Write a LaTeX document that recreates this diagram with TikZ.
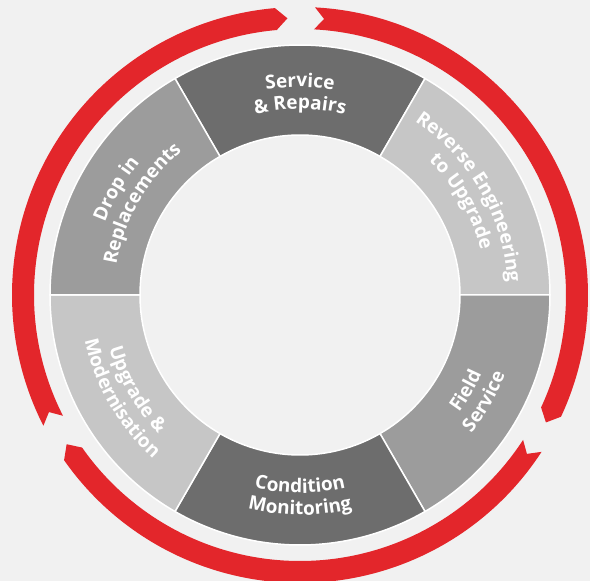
\documentclass[tikz,border=0pt]{standalone}
\usepackage{fontspec}
\setmainfont{Open Sans}
\usetikzlibrary{decorations.text}
\definecolor{backgr}{HTML}{F1F1F1}
\definecolor{arrowred}{HTML}{E3262B}
\definecolor{darkseg}{HTML}{6D6D6D}
\definecolor{midseg}{HTML}{9C9C9C}
\definecolor{lightseg}{HTML}{C6C6C6}
\newcommand{\segfont}{\bfseries\fontsize{19}{22}\selectfont}
% red ribbon: tail angle, head angle (clockwise)
\newcommand{\ribbon}[2]{%
\fill[arrowred] (#1:288) arc[start angle=#1, end angle=#2, radius=288] -- (#2-2.4:277) -- (#2:266)
  arc[start angle=#2, end angle=#1, radius=266] -- (#1-2:277) -- cycle;}
\tikzset{
  seg/.style={fill=#1, draw=white, line width=1.5pt},
  seglabel/.style={decorate, decoration={text along path, text align=center, text color=white, text={|\segfont|#1}}},
}
\begin{document}
\begin{tikzpicture}[x=1pt, y=1pt]
\useasboundingbox (-300,-286) rectangle (290,295);
\fill[backgr] (-300,-286) rectangle (290,295);
\foreach \a/\c in {60/darkseg, 0/lightseg, -60/midseg, -120/darkseg, 180/lightseg, 120/midseg}
  \draw[seg=\c] (\a:160) arc[start angle=\a, end angle=\a+60, radius=160] -- (\a+60:250)
    arc[start angle=\a+60, end angle=\a, radius=250] -- cycle;
\ribbon{207}{95}
\ribbon{87}{-25}
\ribbon{-33}{-145}
% upper labels, read clockwise
\path[seglabel=Service] (120:208) arc[start angle=120, end angle=60, radius=208];
\path[seglabel={{\&} Repairs}] (120:186) arc[start angle=120, end angle=60, radius=186];
\path[seglabel=Reverse Engineering] (60:208) arc[start angle=60, end angle=0, radius=208];
\path[seglabel=to Upgrade] (60:186) arc[start angle=60, end angle=0, radius=186];
\path[seglabel=Drop in] (180:208) arc[start angle=180, end angle=120, radius=208];
\path[seglabel=Replacements] (180:186) arc[start angle=180, end angle=120, radius=186];
% lower labels, read anticlockwise
\path[seglabel=Condition] (240:198) arc[start angle=240, end angle=300, radius=198];
\path[seglabel=Monitoring] (240:220) arc[start angle=240, end angle=300, radius=220];
\path[seglabel=Field] (300:198) arc[start angle=300, end angle=360, radius=198];
\path[seglabel=Service] (300:220) arc[start angle=300, end angle=360, radius=220];
\path[seglabel={Upgrade {\&}}] (180:198) arc[start angle=180, end angle=240, radius=198];
\path[seglabel=Modernisation] (180:220) arc[start angle=180, end angle=240, radius=220];
\end{tikzpicture}
\end{document}
